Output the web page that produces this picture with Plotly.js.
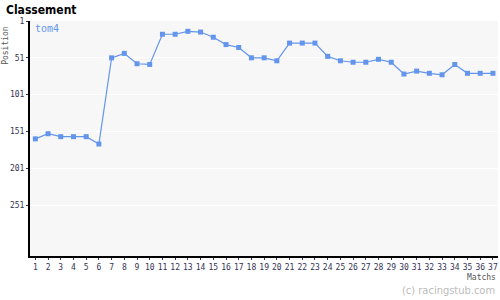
<!DOCTYPE html>
<html><head><meta charset="utf-8">
<script src="https://cdn.plot.ly/plotly-3.0.1.min.js"></script>
<style>html,body{margin:0;padding:0;background:#fff}#c{width:500px;height:300px}</style>
</head><body><div id="c"></div>
<script>
const matches = [1,2,3,4,5,6,7,8,9,10,11,12,13,14,15,16,17,18,19,20,21,22,23,24,25,26,27,28,29,30,31,32,33,34,35,36,37];
const positions = [161,154,158,158,158,168,51,45,59,60,19,19,15,16,23,33,37,51,51,55,31,31,31,49,55,57,57,53,57,73,69,72,74,60,72,72,72];
const yTicks = [1,51,101,151,201,251];
const seriesName = "tom4";

const tickFont = {family: "DejaVu Sans Mono", size: 8, color: "#333355"};
const trace = {
  x: matches, y: positions, type: "scatter", mode: "lines+markers", name: seriesName,
  line: {color: "#6495ED", width: 1.2},
  marker: {symbol: "square", size: 5, color: "#6495ED"},
  hoverinfo: "none"
};
const layout = {
  width: 500, height: 300,
  margin: {l: 30, r: 2, t: 21, b: 44},
  paper_bgcolor: "#ffffff", plot_bgcolor: "#f7f7f7",
  showlegend: false,
  xaxis: {
    range: [0.58, 37.4], tickvals: matches, ticktext: matches.map(String), tickangle: 0,
    showgrid: false, zeroline: false, showline: true, linecolor: "#000", linewidth: 2,
    ticks: "outside", ticklen: 2, tickcolor: "#333355", tickfont: tickFont, fixedrange: true
  },
  yaxis: {
    range: [320, 1], tickvals: yTicks, ticktext: yTicks.map(String),
    showgrid: true, gridcolor: "#ffffff", gridwidth: 1, zeroline: false,
    showline: true, linecolor: "#000", linewidth: 2,
    ticks: "outside", ticklen: 2, tickcolor: "#333355", tickfont: tickFont, fixedrange: true
  },
  annotations: [
    {text: "<b>Classement</b>", xref: "paper", yref: "paper", x: -0.056, y: 1.045, xanchor: "left", yanchor: "middle",
     showarrow: false, font: {family: "DejaVu Sans Condensed", size: 12, color: "#000"}},
    {text: seriesName, xref: "paper", yref: "paper", x: 0.006, y: 0.966, xanchor: "left", yanchor: "middle",
     showarrow: false, font: {family: "DejaVu Sans Mono", size: 10, color: "#6495ED"}},
    {text: "Position", xref: "paper", yref: "paper", x: -0.053, y: 0.895, xanchor: "center", yanchor: "middle", textangle: -90,
     showarrow: false, font: {family: "DejaVu Sans Mono", size: 8, color: "#555555"}},
    {text: "Matchs", xref: "paper", yref: "paper", x: 1.0, y: -0.092, xanchor: "right", yanchor: "middle",
     showarrow: false, font: {family: "DejaVu Sans Mono", size: 8, color: "#555555"}},
    {text: "(c) racingstub.com", xref: "paper", yref: "paper", x: 0.998, y: -0.145, xanchor: "right", yanchor: "middle",
     showarrow: false, font: {family: "DejaVu Sans Condensed", size: 11, color: "#bbbbbb"}}
  ]
};
Plotly.newPlot("c", [trace], layout, {staticPlot: true, displayModeBar: false});
</script></body></html>
